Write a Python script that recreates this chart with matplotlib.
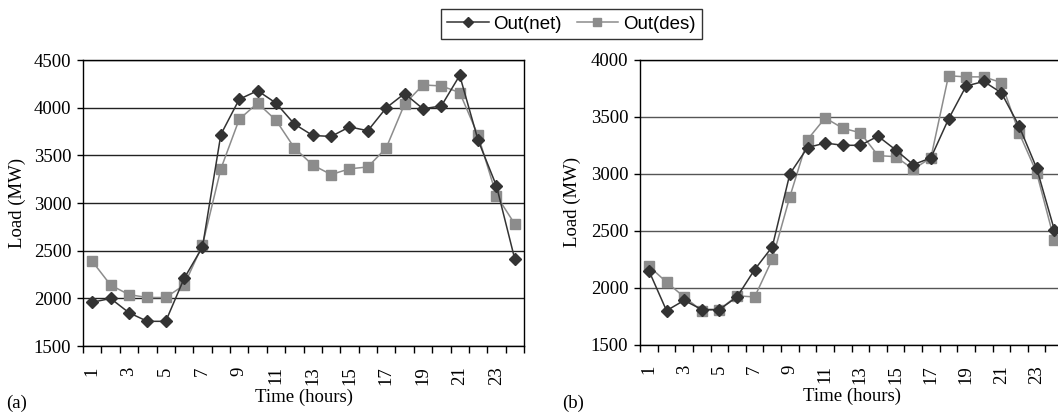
import matplotlib.pyplot as plt
from matplotlib.lines import Line2D

hours = list(range(1, 25))

net_a = [1960, 2000, 1850, 1760, 1760, 2210, 2540, 3720, 4090, 4180, 4050, 3830,
         3710, 3700, 3800, 3760, 4000, 4150, 3990, 4020, 4340, 3660, 3180, 2410]
des_a = [2390, 2140, 2040, 2010, 2010, 2140, 2560, 3360, 3880, 4050, 3870, 3580,
         3400, 3300, 3360, 3380, 3580, 4040, 4240, 4230, 4160, 3710, 3080, 2780]

net_b = [2150, 1800, 1890, 1810, 1810, 1920, 2160, 2360, 3000, 3230, 3270, 3250,
         3250, 3330, 3210, 3080, 3140, 3480, 3770, 3810, 3710, 3420, 3050, 2510]
des_b = [2190, 2050, 1920, 1800, 1810, 1930, 1920, 2250, 2800, 3300, 3490, 3400,
         3360, 3160, 3150, 3040, 3140, 3860, 3850, 3850, 3800, 3360, 3010, 2420]

tick_labels = [str(h) for h in range(1, 24, 2)]

serif = 'Liberation Serif'
fs = 13.5
net_color = '#333333'
des_color = '#8c8c8c'

fig = plt.figure(figsize=(10.58, 4.18), dpi=100)
ax1 = fig.add_axes([0.0785, 0.172, 0.4168, 0.684])
ax2 = fig.add_axes([0.605, 0.175, 0.3998, 0.682])


def draw(ax, net, des, ylim, grid_color, ylab_x):
    ax.set_axisbelow(True)
    ax.yaxis.grid(True, color=grid_color, linewidth=1)
    ax.plot(hours, net, color=net_color, marker='D', markersize=6.2, linewidth=1.1,
            zorder=3)
    ax.plot(hours, des, color=des_color, marker='s', markersize=6.5, linewidth=1.1,
            zorder=2)
    ax.set_xlim(0.5, 24.5)
    ax.set_ylim(*ylim)
    ax.set_yticks(range(ylim[0], ylim[1] + 1, 500))
    ax.set_xticks([h + 0.5 for h in range(0, 25)])
    ax.set_xticklabels([])
    ax.set_xticks(list(range(1, 24, 2)), minor=True)
    ax.set_xticklabels(tick_labels, minor=True, rotation=90, fontfamily=serif,
                       fontsize=fs)
    ax.tick_params(axis='x', which='major', direction='out', length=5, width=1)
    ax.tick_params(axis='x', which='minor', length=0, pad=14.5)
    ax.tick_params(axis='y', direction='out', length=4, width=1, pad=4.5)
    for lab in ax.get_yticklabels():
        lab.set_fontfamily(serif)
        lab.set_fontsize(fs)
    for s in ax.spines.values():
        s.set_color('black')
        s.set_linewidth(1)
    ax.set_ylabel('Load (MW)', fontfamily=serif, fontsize=fs)
    ax.yaxis.set_label_coords(ylab_x, 0.5)
    ax.set_xlabel('Time (hours)', fontfamily=serif, fontsize=fs, labelpad=3)


draw(ax1, net_a, des_a, (1500, 4500), '#222222', -0.13)
draw(ax2, net_b, des_b, (1500, 4000), '#555555', -0.14)

fig.text(0.006, 0.036, '(a)', fontfamily=serif, fontsize=fs, va='center')
fig.text(0.531, 0.036, '(b)', fontfamily=serif, fontsize=fs, va='center')

handles = [Line2D([], [], color=net_color, marker='D', markersize=5, linewidth=1.1),
           Line2D([], [], color=des_color, marker='s', markersize=5.5, linewidth=1.1)]
leg = fig.legend(handles, ['Out(net)', 'Out(des)'], loc='upper center',
                 bbox_to_anchor=(0.54, 0.978), ncol=2, frameon=True, fancybox=False,
                 prop={'family': 'Liberation Sans', 'size': fs}, handlelength=2.2,
                 columnspacing=0.8, handletextpad=0.25, borderpad=0.35,
                 borderaxespad=0)
leg.get_frame().set_edgecolor('black')
leg.get_frame().set_linewidth(1)

fig.savefig('out.png', dpi=100)
